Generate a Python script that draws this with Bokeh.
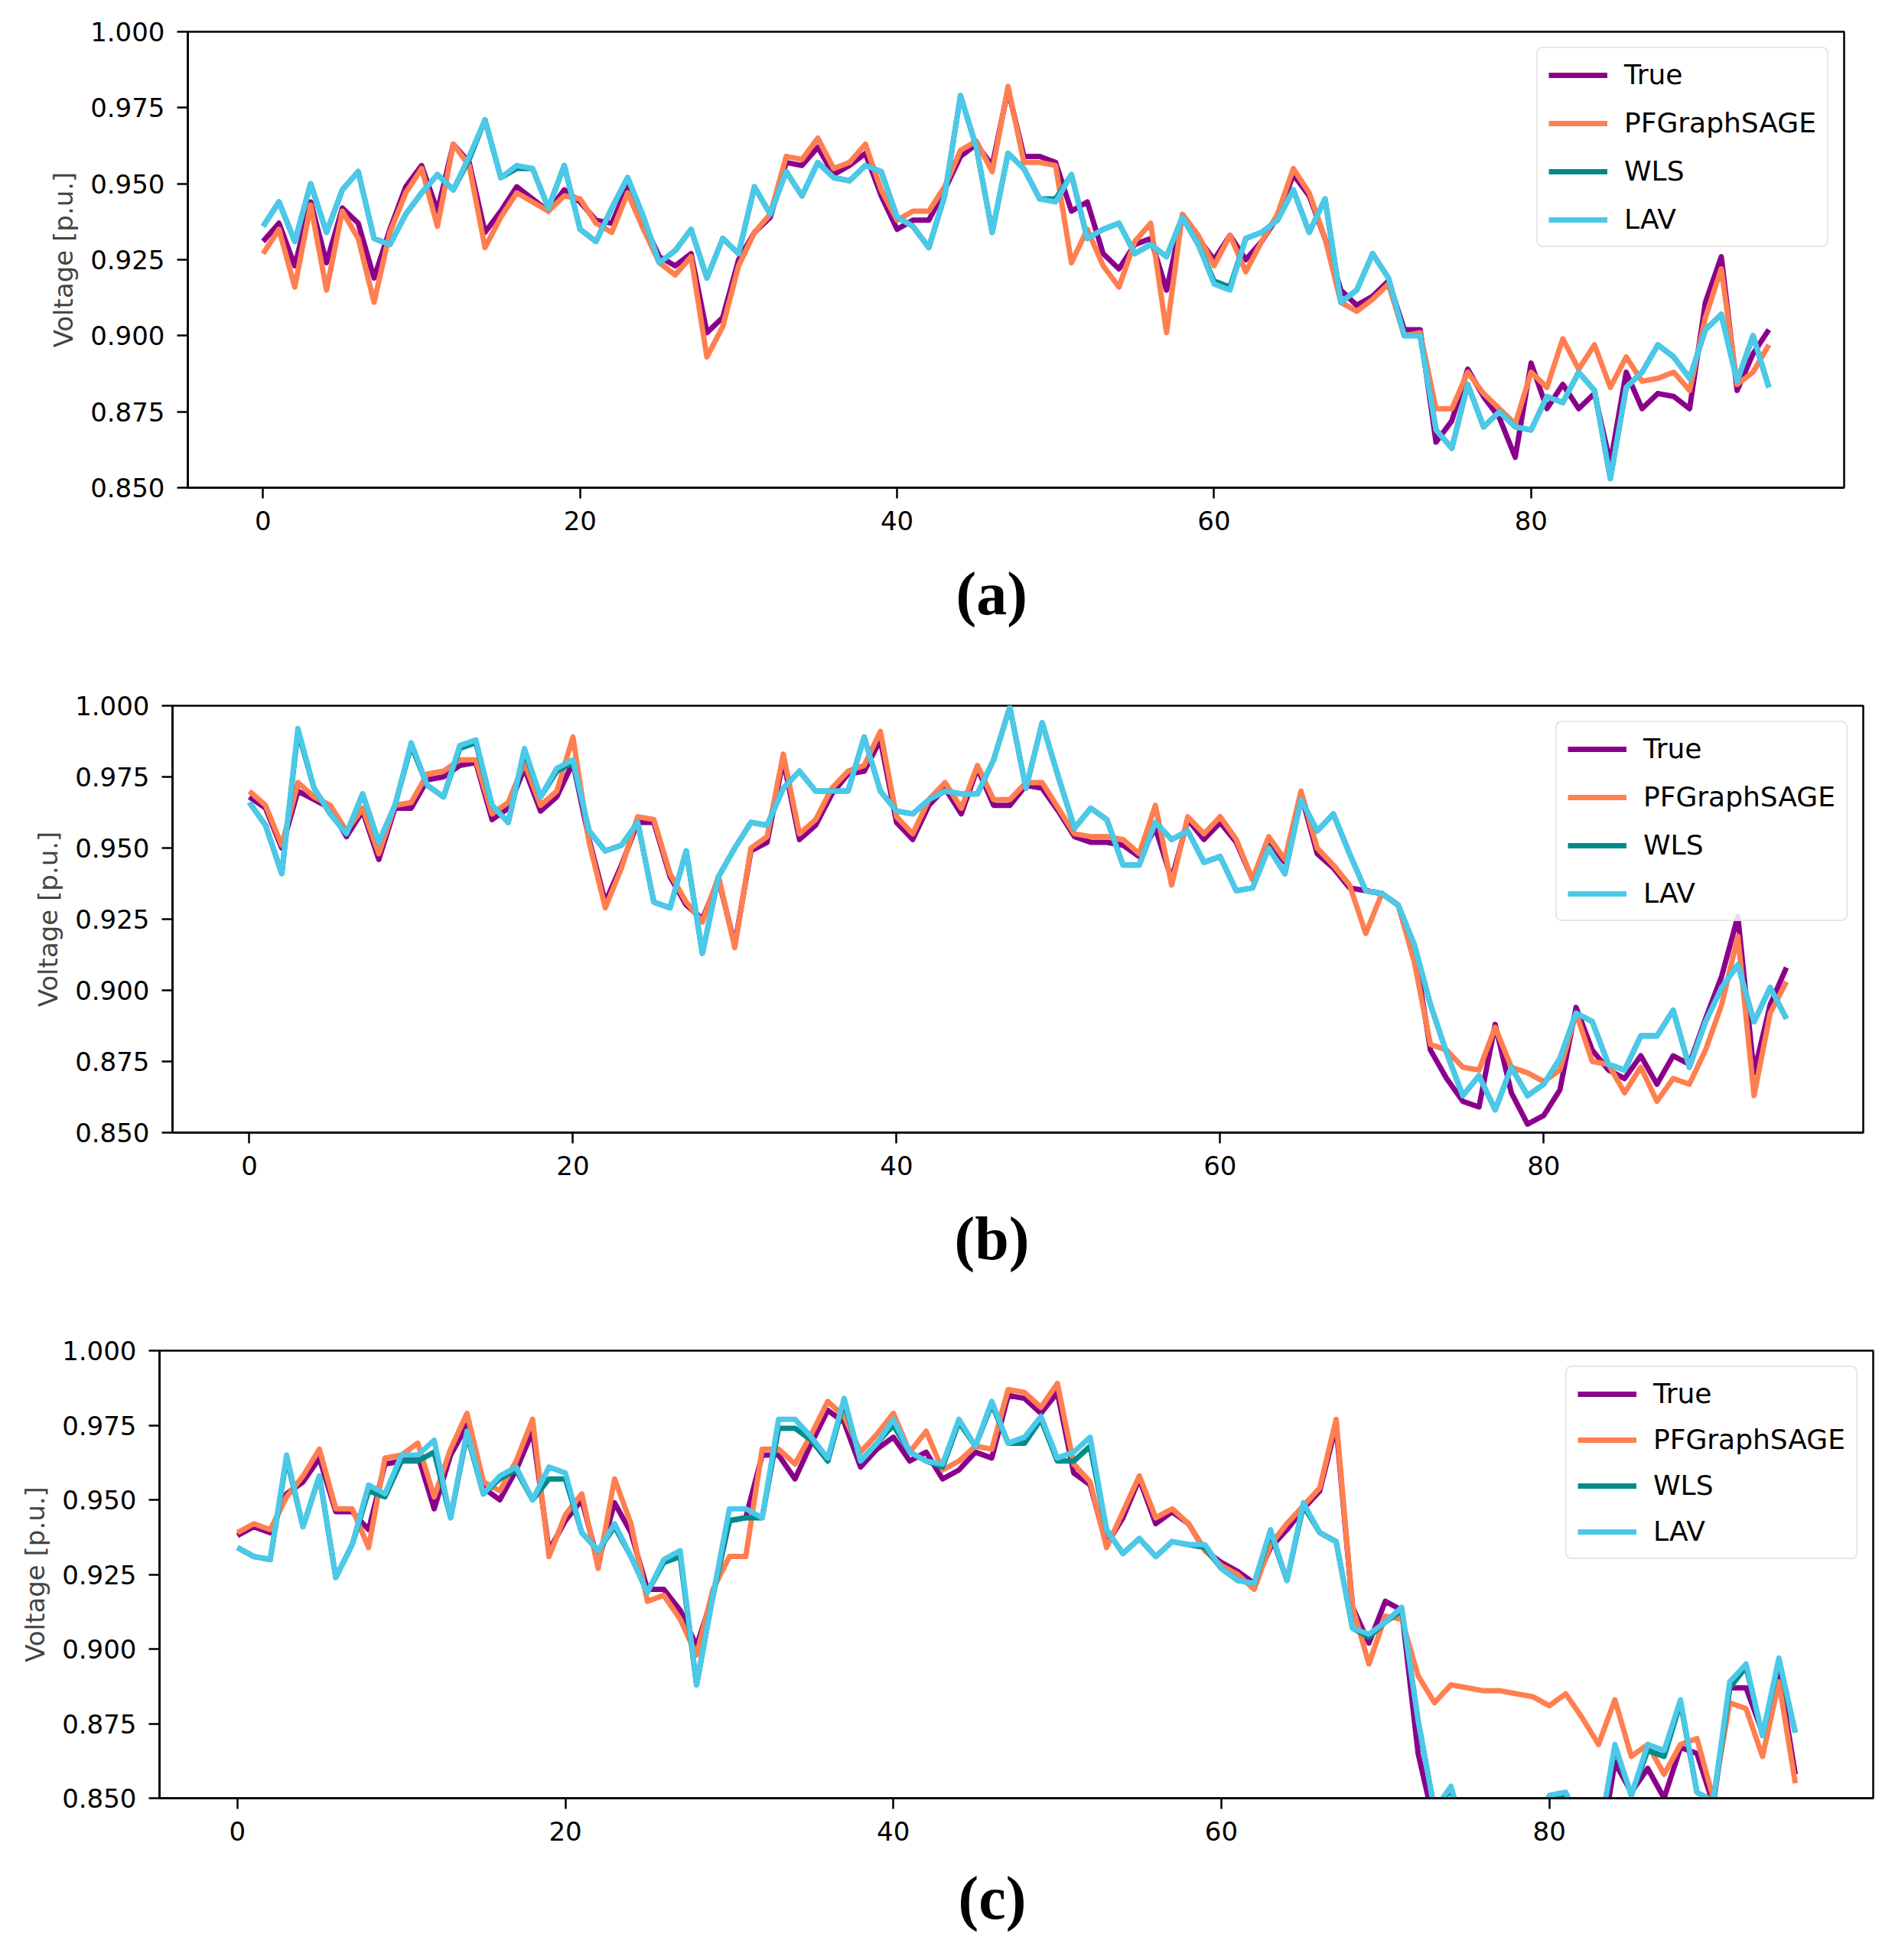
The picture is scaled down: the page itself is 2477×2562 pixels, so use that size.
from bokeh.plotting import figure
from bokeh.layouts import column, row, Spacer
from bokeh.models import Range1d, FixedTicker, NumeralTickFormatter, Legend, LegendItem, Title
from bokeh.embed import file_html
from bokeh.resources import INLINE

idx = list(range(96))
series_names = ["True", "PFGraphSAGE", "WLS", "LAV"]
series_colors = ["#8b008b", "#ff7f50", "#008b8b", "#4cc9e8"]
y_ticks = [0.85, 0.875, 0.9, 0.925, 0.95, 0.975, 1.0]
x_ticks = [0, 20, 40, 60, 80]
panel_labels = ["(a)", "(b)", "(c)"]

# ---------------- panel (a) ----------------
a_true = [0.931, 0.937, 0.923, 0.944, 0.924, 0.942, 0.937, 0.919, 0.935, 0.949,
          0.956, 0.941, 0.963, 0.957, 0.934, 0.941, 0.949, 0.945, 0.941, 0.948,
          0.944, 0.938, 0.937, 0.949, 0.937, 0.926, 0.923, 0.927, 0.901, 0.906,
          0.925, 0.934, 0.939, 0.957, 0.956, 0.962, 0.953, 0.956, 0.960, 0.946,
          0.935, 0.938, 0.938, 0.948, 0.959, 0.963, 0.956, 0.981, 0.959, 0.959,
          0.957, 0.941, 0.944, 0.927, 0.922, 0.930, 0.932, 0.915, 0.939, 0.932,
          0.925, 0.933, 0.925, 0.931, 0.939, 0.953, 0.946, 0.932, 0.915, 0.910,
          0.913, 0.918, 0.902, 0.902, 0.865, 0.872, 0.889, 0.880, 0.873, 0.860,
          0.891, 0.876, 0.884, 0.876, 0.881, 0.858, 0.888, 0.876, 0.881, 0.880,
          0.876, 0.911, 0.926, 0.882, 0.894, 0.902]
a_pf = [0.927, 0.935, 0.916, 0.943, 0.915, 0.941, 0.932, 0.911, 0.934, 0.947,
        0.955, 0.936, 0.963, 0.956, 0.929, 0.939, 0.947, 0.944, 0.941, 0.946,
        0.945, 0.937, 0.934, 0.947, 0.935, 0.924, 0.920, 0.926, 0.893, 0.903,
        0.923, 0.934, 0.940, 0.959, 0.958, 0.965, 0.955, 0.957, 0.963, 0.948,
        0.938, 0.941, 0.941, 0.949, 0.961, 0.964, 0.954, 0.982, 0.957, 0.957,
        0.956, 0.924, 0.935, 0.923, 0.916, 0.931, 0.937, 0.901, 0.940, 0.933,
        0.923, 0.933, 0.921, 0.931, 0.940, 0.955, 0.947, 0.932, 0.911, 0.908,
        0.912, 0.917, 0.900, 0.901, 0.876, 0.876, 0.888, 0.881, 0.876, 0.871,
        0.888, 0.883, 0.899, 0.889, 0.897, 0.883, 0.893, 0.885, 0.886, 0.888,
        0.882, 0.906, 0.922, 0.884, 0.888, 0.897]
a_wls = [0.936, 0.944, 0.931, 0.950, 0.934, 0.948, 0.954, 0.932, 0.930, 0.940,
         0.947, 0.953, 0.948, 0.958, 0.971, 0.952, 0.955, 0.955, 0.942, 0.956,
         0.935, 0.931, 0.942, 0.952, 0.939, 0.924, 0.928, 0.935, 0.919, 0.932,
         0.927, 0.949, 0.940, 0.954, 0.946, 0.957, 0.952, 0.951, 0.956, 0.954,
         0.939, 0.936, 0.929, 0.946, 0.979, 0.962, 0.934, 0.960, 0.955, 0.945,
         0.945, 0.953, 0.932, 0.935, 0.937, 0.927, 0.930, 0.926, 0.939, 0.930,
         0.918, 0.916, 0.932, 0.934, 0.938, 0.948, 0.934, 0.945, 0.911, 0.915,
         0.927, 0.919, 0.900, 0.900, 0.869, 0.863, 0.884, 0.870, 0.875, 0.870,
         0.869, 0.880, 0.878, 0.888, 0.882, 0.853, 0.883, 0.888, 0.897, 0.893,
         0.886, 0.902, 0.907, 0.885, 0.900, 0.883]
a_lav = [0.936, 0.944, 0.931, 0.950, 0.934, 0.948, 0.954, 0.932, 0.930, 0.940,
         0.947, 0.953, 0.948, 0.959, 0.971, 0.952, 0.956, 0.955, 0.942, 0.956,
         0.935, 0.931, 0.942, 0.952, 0.939, 0.924, 0.928, 0.935, 0.919, 0.932,
         0.927, 0.949, 0.940, 0.954, 0.946, 0.957, 0.952, 0.951, 0.956, 0.954,
         0.939, 0.936, 0.929, 0.946, 0.979, 0.962, 0.934, 0.960, 0.955, 0.945,
         0.944, 0.953, 0.932, 0.935, 0.937, 0.927, 0.930, 0.926, 0.939, 0.930,
         0.917, 0.915, 0.932, 0.934, 0.938, 0.948, 0.934, 0.945, 0.911, 0.915,
         0.927, 0.919, 0.900, 0.900, 0.869, 0.863, 0.884, 0.870, 0.875, 0.870,
         0.869, 0.880, 0.878, 0.888, 0.882, 0.853, 0.883, 0.888, 0.897, 0.893,
         0.886, 0.902, 0.907, 0.885, 0.900, 0.883]

# ---------------- panel (b) ----------------
b_true = [0.968, 0.964, 0.950, 0.970, 0.967, 0.964, 0.954, 0.963, 0.946, 0.964,
          0.964, 0.974, 0.975, 0.979, 0.980, 0.960, 0.964, 0.978, 0.963, 0.968,
          0.980, 0.953, 0.931, 0.944, 0.959, 0.959, 0.940, 0.930, 0.925, 0.939,
          0.916, 0.949, 0.952, 0.981, 0.953, 0.958, 0.969, 0.976, 0.977, 0.988,
          0.959, 0.953, 0.965, 0.971, 0.962, 0.978, 0.965, 0.965, 0.972, 0.971,
          0.963, 0.954, 0.952, 0.952, 0.951, 0.947, 0.957, 0.939, 0.960, 0.953,
          0.959, 0.952, 0.939, 0.952, 0.945, 0.969, 0.948, 0.943, 0.936, 0.935,
          0.934, 0.930, 0.915, 0.879, 0.869, 0.861, 0.859, 0.888, 0.864, 0.853,
          0.856, 0.865, 0.894, 0.879, 0.872, 0.869, 0.877, 0.867, 0.877, 0.874,
          0.890, 0.905, 0.926, 0.871, 0.895, 0.908]
b_pf = [0.970, 0.965, 0.951, 0.973, 0.968, 0.965, 0.956, 0.964, 0.948, 0.965,
        0.966, 0.976, 0.977, 0.981, 0.981, 0.962, 0.966, 0.980, 0.965, 0.970,
        0.989, 0.952, 0.929, 0.943, 0.961, 0.960, 0.941, 0.931, 0.924, 0.940,
        0.915, 0.950, 0.954, 0.983, 0.955, 0.960, 0.971, 0.977, 0.979, 0.991,
        0.961, 0.955, 0.967, 0.973, 0.964, 0.979, 0.967, 0.967, 0.973, 0.973,
        0.964, 0.955, 0.954, 0.954, 0.953, 0.948, 0.965, 0.937, 0.961, 0.955,
        0.961, 0.953, 0.939, 0.954, 0.946, 0.970, 0.950, 0.944, 0.937, 0.920,
        0.934, 0.930, 0.910, 0.881, 0.879, 0.873, 0.872, 0.887, 0.873, 0.871,
        0.868, 0.872, 0.892, 0.875, 0.874, 0.864, 0.873, 0.861, 0.869, 0.867,
        0.879, 0.895, 0.919, 0.863, 0.892, 0.903]
b_wls = [0.966, 0.958, 0.941, 0.991, 0.971, 0.962, 0.955, 0.969, 0.952, 0.965,
         0.986, 0.972, 0.968, 0.985, 0.987, 0.965, 0.959, 0.984, 0.968, 0.977,
         0.980, 0.956, 0.949, 0.951, 0.959, 0.931, 0.929, 0.949, 0.913, 0.940,
         0.950, 0.959, 0.958, 0.971, 0.977, 0.970, 0.970, 0.970, 0.989, 0.970,
         0.963, 0.962, 0.967, 0.970, 0.969, 0.969, 0.981, 0.9995, 0.971, 0.994,
         0.975, 0.957, 0.964, 0.960, 0.944, 0.944, 0.959, 0.953, 0.956, 0.945,
         0.947, 0.935, 0.936, 0.950, 0.941, 0.967, 0.956, 0.962, 0.948, 0.935,
         0.934, 0.930, 0.916, 0.895, 0.878, 0.863, 0.870, 0.858, 0.873, 0.863,
         0.867, 0.876, 0.892, 0.889, 0.874, 0.872, 0.884, 0.884, 0.893, 0.873,
         0.889, 0.901, 0.909, 0.889, 0.901, 0.890]
b_lav = [0.966, 0.958, 0.941, 0.992, 0.971, 0.962, 0.955, 0.969, 0.952, 0.965,
         0.987, 0.972, 0.968, 0.986, 0.988, 0.965, 0.959, 0.985, 0.968, 0.978,
         0.981, 0.956, 0.949, 0.951, 0.959, 0.931, 0.929, 0.949, 0.913, 0.940,
         0.950, 0.959, 0.958, 0.971, 0.977, 0.970, 0.970, 0.970, 0.989, 0.970,
         0.963, 0.962, 0.967, 0.970, 0.969, 0.969, 0.981, 0.9995, 0.971, 0.994,
         0.975, 0.957, 0.964, 0.960, 0.944, 0.944, 0.959, 0.953, 0.956, 0.945,
         0.947, 0.935, 0.936, 0.950, 0.941, 0.967, 0.956, 0.962, 0.948, 0.935,
         0.934, 0.930, 0.916, 0.895, 0.878, 0.863, 0.870, 0.858, 0.873, 0.863,
         0.867, 0.876, 0.892, 0.889, 0.874, 0.872, 0.884, 0.884, 0.893, 0.873,
         0.889, 0.901, 0.909, 0.889, 0.901, 0.890]

# ---------------- panel (c) ----------------
c_true = [0.938, 0.941, 0.939, 0.952, 0.956, 0.964, 0.946, 0.946, 0.940, 0.962,
          0.963, 0.965, 0.947, 0.965, 0.975, 0.954, 0.950, 0.960, 0.973, 0.933,
          0.943, 0.950, 0.929, 0.949, 0.939, 0.920, 0.920, 0.913, 0.901, 0.918,
          0.943, 0.944, 0.965, 0.965, 0.957, 0.969, 0.980, 0.976, 0.961, 0.967,
          0.971, 0.963, 0.966, 0.957, 0.960, 0.966, 0.964, 0.985, 0.984, 0.979,
          0.986, 0.959, 0.955, 0.935, 0.944, 0.957, 0.942, 0.946, 0.942, 0.933,
          0.929, 0.926, 0.922, 0.934, 0.940, 0.947, 0.953, 0.975, 0.914, 0.902,
          0.916, 0.913, 0.865, 0.841, 0.846, 0.832, 0.828, 0.826, 0.829, 0.834,
          0.840, 0.846, 0.836, 0.829, 0.862, 0.852, 0.860, 0.850, 0.867, 0.865,
          0.848, 0.887, 0.887, 0.872, 0.892, 0.858]
c_pf = [0.939, 0.942, 0.940, 0.951, 0.958, 0.967, 0.947, 0.947, 0.934, 0.964,
        0.965, 0.969, 0.951, 0.967, 0.979, 0.956, 0.953, 0.963, 0.977, 0.931,
        0.945, 0.952, 0.927, 0.957, 0.942, 0.916, 0.918, 0.910, 0.898, 0.920,
        0.931, 0.931, 0.967, 0.967, 0.962, 0.972, 0.983, 0.978, 0.966, 0.972,
        0.979, 0.966, 0.973, 0.960, 0.963, 0.968, 0.967, 0.987, 0.986, 0.981,
        0.989, 0.962, 0.956, 0.934, 0.946, 0.958, 0.944, 0.947, 0.942, 0.933,
        0.928, 0.925, 0.920, 0.935, 0.942, 0.948, 0.954, 0.977, 0.914, 0.895,
        0.911, 0.910, 0.891, 0.882, 0.888, 0.887, 0.886, 0.886, 0.885, 0.884,
        0.881, 0.885, 0.877, 0.868, 0.883, 0.864, 0.868, 0.858, 0.868, 0.870,
        0.850, 0.882, 0.880, 0.864, 0.889, 0.855]
c_wls = [0.934, 0.931, 0.930, 0.964, 0.941, 0.958, 0.924, 0.935, 0.953, 0.951,
         0.963, 0.963, 0.966, 0.944, 0.972, 0.952, 0.957, 0.960, 0.950, 0.957,
         0.957, 0.939, 0.933, 0.941, 0.931, 0.919, 0.929, 0.931, 0.888, 0.918,
         0.943, 0.944, 0.944, 0.974, 0.974, 0.970, 0.963, 0.983, 0.963, 0.969,
         0.975, 0.966, 0.963, 0.961, 0.976, 0.968, 0.982, 0.969, 0.969, 0.977,
         0.963, 0.963, 0.968, 0.940, 0.932, 0.937, 0.931, 0.936, 0.935, 0.934,
         0.927, 0.923, 0.922, 0.939, 0.923, 0.948, 0.939, 0.936, 0.907, 0.904,
         0.909, 0.913, 0.876, 0.846, 0.853, 0.835, 0.830, 0.829, 0.831, 0.838,
         0.850, 0.851, 0.840, 0.836, 0.867, 0.851, 0.866, 0.864, 0.882, 0.852,
         0.849, 0.887, 0.894, 0.871, 0.896, 0.872]
c_lav = [0.934, 0.931, 0.930, 0.965, 0.941, 0.958, 0.924, 0.935, 0.955, 0.952,
         0.965, 0.965, 0.970, 0.944, 0.973, 0.952, 0.958, 0.961, 0.950, 0.961,
         0.959, 0.939, 0.933, 0.942, 0.931, 0.919, 0.930, 0.933, 0.888, 0.918,
         0.947, 0.947, 0.944, 0.977, 0.977, 0.971, 0.964, 0.984, 0.963, 0.969,
         0.977, 0.966, 0.963, 0.962, 0.977, 0.968, 0.983, 0.969, 0.971, 0.978,
         0.964, 0.966, 0.971, 0.940, 0.932, 0.937, 0.931, 0.936, 0.935, 0.935,
         0.927, 0.923, 0.922, 0.940, 0.923, 0.949, 0.939, 0.936, 0.907, 0.905,
         0.909, 0.914, 0.876, 0.846, 0.854, 0.835, 0.830, 0.829, 0.831, 0.838,
         0.851, 0.852, 0.840, 0.836, 0.868, 0.851, 0.868, 0.866, 0.883, 0.852,
         0.849, 0.889, 0.895, 0.871, 0.897, 0.872]

TICK_FONT = "34px"
FONT = "DejaVu Sans"
BASE_LEFT = 208


def make_panel(data, label, frame_w, frame_h, border_top,
               border_bottom, border_right, label_left, label_standoff,
               entry_h, entry_sp):
    p = figure(frame_width=frame_w, frame_height=frame_h,
               x_range=Range1d(-4.75, 99.75), y_range=Range1d(0.85, 1.0),
               output_backend="svg", toolbar_location=None,
               min_border_left=BASE_LEFT, min_border_right=border_right,
               min_border_top=border_top, min_border_bottom=border_bottom)
    p.background_fill_color = "white"
    p.border_fill_color = "white"
    p.outline_line_color = "black"
    p.outline_line_width = 2.5
    p.xgrid.visible = False
    p.ygrid.visible = False

    for ax in (p.xaxis[0], p.yaxis[0]):
        ax.axis_line_color = "black"
        ax.axis_line_width = 2.5
        ax.major_tick_line_color = "black"
        ax.major_tick_line_width = 2.5
        ax.major_tick_out = 14
        ax.major_tick_in = 0
        ax.minor_tick_out = 0
        ax.minor_tick_in = 0
        ax.major_label_text_font = FONT
        ax.major_label_text_font_size = TICK_FONT
        ax.major_label_text_color = "black"
    p.xaxis.ticker = FixedTicker(ticks=x_ticks)
    p.yaxis.ticker = FixedTicker(ticks=y_ticks)
    p.yaxis.formatter = NumeralTickFormatter(format="0.000")
    p.xaxis.major_label_standoff = 16
    p.yaxis.major_label_standoff = 16
    p.yaxis.axis_label = "Voltage [p.u.]"
    p.yaxis.axis_label_text_font = FONT
    p.yaxis.axis_label_text_font_size = TICK_FONT
    p.yaxis.axis_label_text_font_style = "normal"
    p.yaxis.axis_label_standoff = 12

    items = []
    for vals, name, col in zip(data, series_names, series_colors):
        r = p.line(idx, vals, line_color=col, line_width=7, line_join="round")
        items.append(LegendItem(label=name, renderers=[r]))

    legend = Legend(items=items, location="top_right")
    legend.margin = 20
    legend.padding = 14
    legend.spacing = entry_sp
    legend.glyph_width = 77
    legend.glyph_height = entry_h
    legend.label_height = entry_h
    legend.label_standoff = 22
    legend.label_text_font = FONT
    legend.label_text_font_size = "36px"
    legend.label_text_color = "black"
    legend.border_line_color = "#d0d0d0"
    legend.border_line_width = 2
    legend.background_fill_color = "white"
    legend.background_fill_alpha = 0.85
    try:
        legend.border_radius = 8
    except Exception:
        pass
    p.add_layout(legend)

    t = Title(text=label, align="left", text_font="Liberation Serif",
              text_font_size="80px", text_font_style="bold",
              text_color="black", offset=label_left, standoff=label_standoff)
    p.add_layout(t, "below")
    return p


pa = make_panel([a_true, a_pf, a_wls, a_lav], panel_labels[0],
                2165, 596, 41, 223, 30, 1004, 68, 40, 22)
pb = make_panel([b_true, b_pf, b_wls, b_lav], panel_labels[1],
                2210, 558, 62, 220, 20, 1022, 68, 38, 22)
pc = make_panel([c_true, c_pf, c_wls, c_lav], panel_labels[2],
                2240, 585, 65, 196, 12, 1044, 52, 40, 19)

layout = column(row(Spacer(width=37, height=10), pa),
                row(Spacer(width=17, height=10), pb),
                pc, spacing=0)
open("out.html", "w").write(file_html(layout, INLINE))
